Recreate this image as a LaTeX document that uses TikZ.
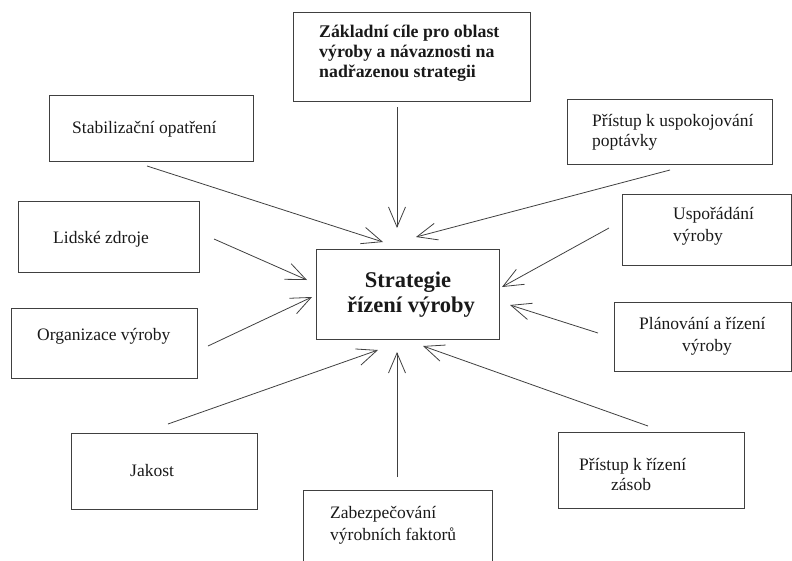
\documentclass[tikz,border=0pt]{standalone}
\usepackage{fontspec}
\setmainfont{Liberation Serif}
\usetikzlibrary{arrows.meta}
\tikzset{
  box/.style={draw=black!75, line width=0.9pt, inner sep=0pt},
  txt/.style={anchor=base west, inner sep=0pt, font=\fontsize{17.5}{21}\selectfont, text=black!90},
  btxt/.style={anchor=base west, inner sep=0pt, font=\fontsize{17.8}{20}\selectfont\bfseries, text=black!90},
  ctxt/.style={anchor=base, inner sep=0pt, font=\fontsize{22.5}{25}\selectfont\bfseries, text=black!90},
  conn/.style={draw=black!75, line width=0.8pt, -{Straight Barb[length=20pt,width=17pt,line width=0.8pt]}}
}
\newcommand{\boxat}[3]{\node[box, minimum width=#2, minimum height=#3, anchor=north west]}
\begin{document}
\begin{tikzpicture}[x=1pt,y=-1pt]
\useasboundingbox (0,0) rectangle (792,560);
\begin{scope}
\clip (0,0) rectangle (792,560);
% boxes
\node[box, anchor=north west, minimum width=237pt, minimum height=89pt] (top) at (293,12) {};
\node[box, anchor=north west, minimum width=183pt, minimum height=90pt] (center) at (316,249) {};
\node[box, anchor=north west, minimum width=189pt, minimum height=80pt] (bot) at (303,490) {};
\node[box, anchor=north west, minimum width=204pt, minimum height=66pt] (stab) at (49,95) {};
\node[box, anchor=north west, minimum width=181pt, minimum height=71pt] (lid) at (18,201) {};
\node[box, anchor=north west, minimum width=186pt, minimum height=70pt] (org) at (11,308) {};
\node[box, anchor=north west, minimum width=186pt, minimum height=76pt] (jak) at (71,433) {};
\node[box, anchor=north west, minimum width=205pt, minimum height=65pt] (pup) at (567,99) {};
\node[box, anchor=north west, minimum width=169pt, minimum height=71pt] (usp) at (622,194) {};
\node[box, anchor=north west, minimum width=177pt, minimum height=69pt] (plan) at (614,302) {};
\node[box, anchor=north west, minimum width=186pt, minimum height=76pt] (pzas) at (558,432) {};
\end{scope}
% texts
\node[btxt] (t1a) at (319,37) {Základní cíle pro oblast};
\node[btxt] (t1b) at (319,57) {výroby a návaznosti na};
\node[btxt] (t1c) at (319,77) {nadřazenou strategii};
\node[ctxt] (c1) at (408,287) {Strategie};
\node[ctxt] (c2) at (411,312) {řízení výroby};
\node[txt] (ts) at (72,133) {Stabilizační opatření};
\node[txt] (tl) at (53,243) {Lidské zdroje};
\node[txt] (to) at (37,340) {Organizace výroby};
\node[txt] (tj) at (130,476) {Jakost};
\node[txt] (tz1) at (330,518) {Zabezpečování};
\node[txt] (tz2) at (330,540) {výrobních faktorů};
\node[txt] (tp1) at (592,126) {Přístup k uspokojování};
\node[txt] (tp2) at (592,146) {poptávky};
\node[txt] (tu1) at (673,219) {Uspořádání};
\node[txt] (tu2) at (673,241) {výroby};
\node[txt] (tpl1) at (639,329) {Plánování a řízení};
\node[txt] (tpl2) at (682,351) {výroby};
\node[txt] (tr1) at (579,470) {Přístup k řízení};
\node[txt] (tr2) at (611,490) {zásob};
% connector end points
\coordinate (s1) at (397,107);  \coordinate (e1) at (397,228);
\coordinate (s2) at (147,166);  \coordinate (e2) at (383,242);
\coordinate (s3) at (214,239);  \coordinate (e3) at (307,280);
\coordinate (s4) at (208,346);  \coordinate (e4) at (312,297);
\coordinate (s5) at (168,424);  \coordinate (e5) at (378,350);
\coordinate (s6) at (397,477);  \coordinate (e6) at (397,352);
\coordinate (s7) at (648,426);  \coordinate (e7) at (423,346);
\coordinate (s8) at (598,333);  \coordinate (e8) at (510,305);
\coordinate (s9) at (609,228);  \coordinate (e9) at (502,287);
\coordinate (s10) at (670,170); \coordinate (e10) at (416,237);
\foreach \i in {1,...,10} { \draw[conn] (s\i) -- (e\i); }
\end{tikzpicture}
\end{document}
